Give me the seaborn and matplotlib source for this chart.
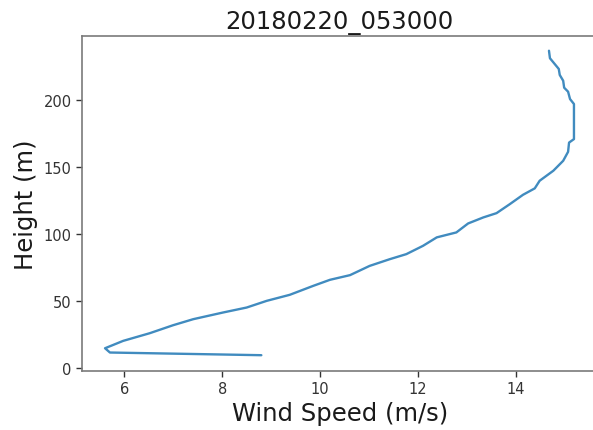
import matplotlib
matplotlib.use("Agg")
import matplotlib.pyplot as plt
import seaborn as sns
import pandas as pd

title = "20180220_053000"
speed = [8.80, 5.71, 5.61, 5.98, 6.52, 7.00, 7.41, 8.02, 8.50, 8.91, 9.38, 9.86,
         10.20, 10.61, 11.01, 11.42, 11.76, 12.10, 12.38, 12.78, 13.02, 13.33,
         13.60, 13.87, 14.14, 14.38, 14.48, 14.76, 14.96, 15.06, 15.08, 15.18,
         15.18, 15.10, 15.06, 14.98, 14.96, 14.89, 14.87, 14.69, 14.67]
height = [9.2, 11.2, 14.4, 19.9, 25.6, 31.6, 36.1, 41.1, 44.8, 49.8, 54.3, 61.0,
          65.5, 69.0, 75.9, 80.9, 84.7, 90.9, 97.2, 100.9, 107.6, 112.1,
          115.3, 122.0, 129.0, 133.8, 139.5, 147.0, 154.4, 161.1, 168.0, 170.6,
          196.8, 200.5, 206.0, 209.0, 214.2, 218.5, 223.0, 231.0, 236.6]
xticks = [6, 8, 10, 12, 14]
yticks = [0, 50, 100, 150, 200]

df = pd.DataFrame({"speed": speed, "height": height})

sns.set_style("ticks")
plt.rcParams['font.family'] = ['DejaVu Sans']

fig = plt.figure(figsize=(5.93, 4.31), dpi=100)
# Axes run past the right edge of the figure (the reference is cropped there)
ax = fig.add_axes([82 / 593, 1 - 372 / 431, (700 - 82) / 593, (372 - 37) / 431])
ax.patch.set_edgecolor("none")
sns.lineplot(data=df, x="speed", y="height", sort=False, estimator=None,
             color="#1f77b4", linewidth=1.7, ax=ax, alpha=0.85)
ax.set_xlim(5.14, 5.14 + (700 - 82) / 49.0)
ax.set_ylim(-2.6, 247.6)
ax.set_xticks(xticks)
ax.set_yticks(yticks)
ax.set_title(title, fontsize=17.5, color="#1a1a1a", pad=6)
ax.title.set_position((((597.6 + 82) / 2 - 82) / (700 - 82), 1.0))
ax.set_xlabel("Wind Speed (m/s)", fontsize=17.5, color="#1a1a1a")
ax.xaxis.set_label_coords(((597.6 + 82) / 2 - 82) / (700 - 82), -0.09)
ax.set_ylabel("Height (m)", fontsize=17.5, color="#1a1a1a")
ax.tick_params(labelsize=10.5, colors="#333333", length=4, width=1)
for s in ax.spines.values():
    s.set_color("#7a7a7a")
    s.set_linewidth(1.2)
ax.spines["right"].set_visible(False)
fig.savefig("out.png", dpi=100, facecolor="white")
